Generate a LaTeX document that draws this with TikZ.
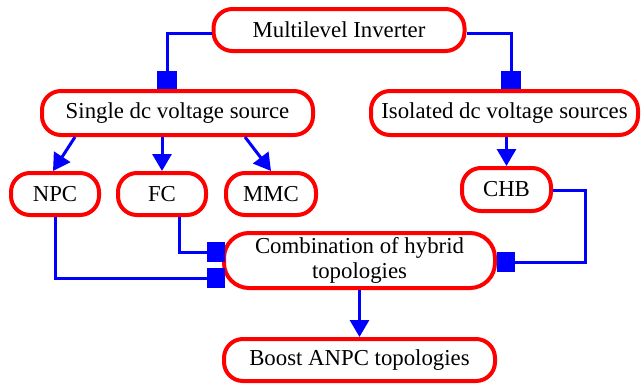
\documentclass[tikz,border=0pt]{standalone}
\usepackage{fontspec}
\setmainfont{Liberation Serif}
\usetikzlibrary{arrows.meta}
\definecolor{boxred}{RGB}{255,0,0}
\definecolor{linkblue}{RGB}{0,0,255}
\begin{document}
\begin{tikzpicture}[x=1pt, y=-1pt,
  blk/.style={draw=boxred, line width=4pt, rounded corners=19pt, align=center, inner sep=0pt,
    font=\fontsize{22.8}{25.5}\selectfont},
  arline/.style={draw=linkblue, line width=3pt, -{Triangle[length=17pt,width=19pt]}},
  sqline/.style={draw=linkblue, line width=3pt, -{Square[length=18pt,width=20pt]}}]
\useasboundingbox (0,0) rectangle (641,386);
\node[blk, minimum width=251pt, minimum height=42pt] (ml) at (339,30) {Multilevel Inverter};
\node[blk, minimum width=271pt, minimum height=44pt] (single) at (177.5,113) {Single dc voltage source};
\node[blk, minimum width=267pt, minimum height=44pt] (iso) at (504.5,113) {Isolated dc voltage sources};
\node[blk, minimum width=88pt, minimum height=42pt] (npc) at (55,194) {NPC};
\node[blk, minimum width=88pt, minimum height=42pt] (fc) at (162,194) {FC};
\node[blk, minimum width=90pt, minimum height=42pt] (mmc) at (271,194) {MMC};
\node[blk, minimum width=89pt, minimum height=43pt] (chb) at (506.5,189.5) {CHB};
\node[blk, minimum width=271pt, minimum height=55pt, rounded corners=25pt] (comb) at (359.5,260.5)
{Combination of hybrid\\topologies};
\node[blk, minimum width=271pt, minimum height=42pt] (boost) at (359.5,360) {Boost ANPC topologies};
% top level
\draw[sqline] ([yshift=-3pt]ml.west) -| ([xshift=-10.5pt]single.north);
\draw[sqline] ([yshift=-3pt]ml.east) -| ([xshift=6.5pt]iso.north);
% single dc source branches
\draw[arline] ([xshift=-102.5pt]single.south) -- ([xshift=-2pt]npc.north);
\draw[arline] (single.south -| fc.north) -- (fc.north);
\draw[arline] ([xshift=67.5pt]single.south) -- (mmc.north);
\draw[arline] (iso.south -| chb.north) -- (chb.north);
% hybrid combination
\draw[sqline] ([xshift=17pt]fc.south) |- ([yshift=8.5pt,xshift=3pt]comb.west);
\draw[sqline] (npc.south) |- ([yshift=-17.5pt,xshift=3pt]comb.west);
\draw[sqline] ([yshift=-0.5pt]chb.east) -- ++(32,0) |- ([yshift=-1.5pt]comb.east);
\draw[arline] (comb.south) -- (boost.north);
\end{tikzpicture}
\end{document}
